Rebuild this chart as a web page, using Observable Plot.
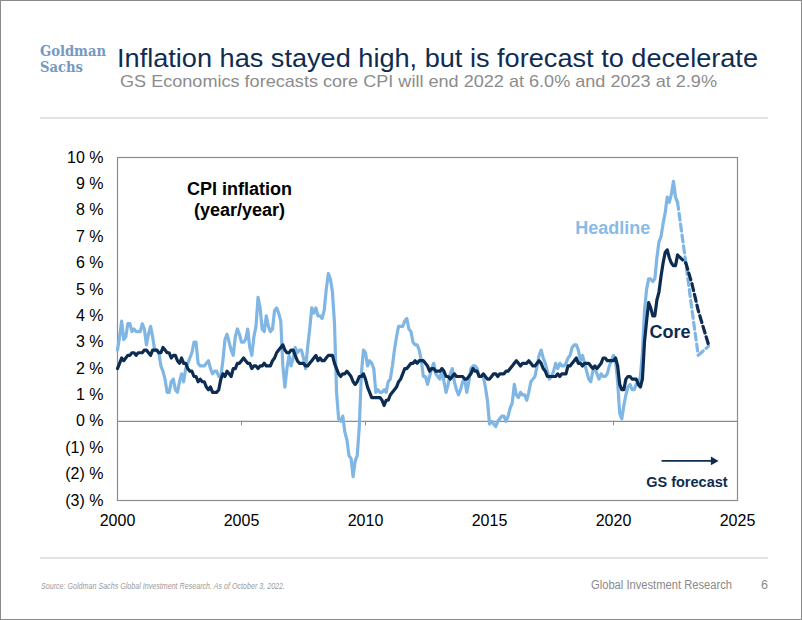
<!DOCTYPE html>
<html>
<head>
<meta charset="utf-8">
<script src="https://cdn.jsdelivr.net/npm/d3@7"></script>
<script src="https://cdn.jsdelivr.net/npm/@observablehq/plot@0.6"></script>
<style>
  html, body { margin: 0; padding: 0; background: #fff; }
  body { width: 802px; height: 620px; position: relative; overflow: hidden; font-family: "Liberation Sans", Arial, sans-serif; }
  .abs { position: absolute; white-space: nowrap; transform-origin: 0 0; }
  .logo { font-family: 'DejaVu Serif Condensed', 'DejaVu Serif', serif; font-stretch: condensed; font-weight: bold; font-size: 14px; line-height: 16.3px; color: #7399c6; }
  #border { position: absolute; left: 0; top: 0; width: 800px; height: 618px; border: 1px solid #8a8a8a; }
  .sep { position: absolute; left: 40px; width: 728px; height: 2px; background: #e3e3e3; }
  #chart { position: absolute; left: 0; top: 130px; }
</style>
</head>
<body>
<div id="border"></div>
<div class="abs fit logo" data-w="66" style="left:40px; top:42.5px;">Goldman</div>
<div class="abs fit logo" data-w="43" style="left:40px; top:58.8px;">Sachs</div>
<div class="abs fit" data-w="641" style="left:117px; top:46.1px; font:25px/25px 'Liberation Sans', Arial, sans-serif; color:#0f2c52;">Inflation has stayed high, but is forecast to decelerate</div>
<div class="abs fit" data-w="597" style="left:120px; top:72.9px; font:17px/17px 'Liberation Sans', Arial, sans-serif; color:#8c8c8c;">GS Economics forecasts core CPI will end 2022 at 6.0% and 2023 at 2.9%</div>
<div class="sep" style="top:117px;"></div>
<div class="sep" style="top:557px;"></div>
<div id="chart"></div>
<div class="abs fit" data-w="244" style="left:41px; top:582px; font:italic 8.5px/8.5px 'Liberation Sans', Arial, sans-serif; color:#9a9a9a;">Source: Goldman Sachs Global Investment Research. As of October 3, 2022.</div>
<div class="abs fit" data-w="141" style="left:591px; top:579.4px; font:12.5px/12.5px 'Liberation Sans', Arial, sans-serif; color:#8a8a8a;">Global Investment Research</div>
<div class="abs" style="left:761px; top:579.4px; font:12.5px/12.5px 'Liberation Sans', Arial, sans-serif; color:#8a8a8a;">6</div>
<script>
// ---- Data (monthly year/year % change, Jan 2000 – Aug 2022) ----
const startYear = 2000;
const headline = [
  2.7, 3.2, 3.8, 3.1, 3.2, 3.7, 3.7, 3.4, 3.5, 3.4, 3.4, 3.4,
  3.7, 3.5, 2.9, 3.3, 3.6, 3.2, 2.7, 2.7, 2.6, 2.1, 1.9, 1.6,
  1.1, 1.1, 1.5, 1.6, 1.2, 1.1, 1.5, 1.8, 1.5, 2.0, 2.2, 2.4,
  2.6, 3.0, 3.0, 2.2, 2.1, 2.1, 2.1, 2.2, 2.3, 2.0, 1.8, 1.9,
  1.9, 1.7, 1.7, 2.3, 3.1, 3.3, 3.0, 2.7, 2.5, 3.2, 3.5, 3.3,
  3.0, 3.0, 3.1, 3.5, 2.8, 2.5, 3.2, 3.6, 4.7, 4.3, 3.5, 3.4,
  4.0, 3.6, 3.4, 3.5, 4.2, 4.3, 4.1, 3.8, 2.1, 1.3, 2.0, 2.5,
  2.1, 2.4, 2.8, 2.6, 2.7, 2.7, 2.4, 2.0, 2.8, 3.5, 4.3, 4.1,
  4.3, 4.0, 4.0, 3.9, 4.2, 5.0, 5.6, 5.4, 4.9, 3.7, 1.1, 0.1,
  0.0, 0.2, -0.4, -0.7, -1.3, -1.4, -2.1, -1.5, -1.3, -0.2, 1.8, 2.7,
  2.6, 2.1, 2.3, 2.2, 2.0, 1.1, 1.2, 1.1, 1.1, 1.2, 1.1, 1.5,
  1.6, 2.1, 2.7, 3.2, 3.6, 3.6, 3.6, 3.8, 3.9, 3.5, 3.4, 3.0,
  2.9, 2.9, 2.7, 2.3, 1.7, 1.7, 1.4, 1.7, 2.0, 2.2, 1.8, 1.7,
  1.6, 2.0, 1.5, 1.1, 1.4, 1.8, 2.0, 1.5, 1.2, 1.0, 1.2, 1.5,
  1.6, 1.1, 1.5, 2.0, 2.1, 2.1, 2.0, 1.7, 1.7, 1.7, 1.3, 0.8,
  -0.1, 0.0, -0.1, -0.2, 0.0, 0.1, 0.2, 0.2, 0.0, 0.2, 0.5, 0.7,
  1.4, 1.0, 0.9, 1.1, 1.0, 1.0, 0.8, 1.1, 1.5, 1.6, 1.7, 2.1,
  2.5, 2.7, 2.4, 2.2, 1.9, 1.6, 1.7, 1.9, 2.2, 2.0, 2.2, 2.1,
  2.1, 2.2, 2.4, 2.5, 2.8, 2.9, 2.9, 2.7, 2.3, 2.5, 2.2, 1.9,
  1.6, 1.5, 1.9, 2.0, 1.8, 1.6, 1.8, 1.7, 1.7, 1.8, 2.1, 2.3,
  2.5, 2.3, 1.5, 0.3, 0.1, 0.6, 1.0, 1.3, 1.4, 1.2, 1.2, 1.4,
  1.4, 1.7, 2.6, 4.2, 5.0, 5.4, 5.4, 5.3, 5.4, 6.2, 6.8, 7.0,
  7.5, 7.9, 8.5, 8.3, 8.6, 9.1, 8.5, 8.3
];
const core = [
  2.0, 2.2, 2.4, 2.3, 2.4, 2.5, 2.5, 2.6, 2.6, 2.5, 2.6, 2.6,
  2.6, 2.7, 2.7, 2.6, 2.5, 2.7, 2.7, 2.7, 2.6, 2.6, 2.8, 2.7,
  2.6, 2.6, 2.4, 2.5, 2.5, 2.3, 2.2, 2.4, 2.2, 2.2, 2.0, 1.9,
  1.9, 1.7, 1.7, 1.5, 1.6, 1.5, 1.5, 1.3, 1.2, 1.3, 1.1, 1.1,
  1.1, 1.2, 1.6, 1.8, 1.7, 1.9, 1.8, 1.7, 2.0, 2.0, 2.2, 2.2,
  2.3, 2.4, 2.3, 2.2, 2.2, 2.0, 2.1, 2.1, 2.0, 2.1, 2.1, 2.2,
  2.1, 2.1, 2.1, 2.3, 2.4, 2.6, 2.7, 2.8, 2.9, 2.7, 2.6, 2.6,
  2.7, 2.7, 2.5, 2.3, 2.2, 2.2, 2.2, 2.1, 2.1, 2.2, 2.3, 2.4,
  2.5, 2.3, 2.4, 2.3, 2.3, 2.4, 2.5, 2.5, 2.5, 2.2, 2.0, 1.8,
  1.7, 1.8, 1.8, 1.9, 1.8, 1.7, 1.5, 1.4, 1.5, 1.7, 1.7, 1.8,
  1.6, 1.3, 1.1, 0.9, 0.9, 0.9, 0.9, 0.9, 0.8, 0.6, 0.8, 0.8,
  1.0, 1.1, 1.2, 1.3, 1.5, 1.6, 1.8, 2.0, 2.0, 2.1, 2.2, 2.2,
  2.3, 2.2, 2.3, 2.3, 2.3, 2.2, 2.1, 1.9, 2.0, 2.0, 1.9, 1.9,
  1.9, 2.0, 1.9, 1.7, 1.7, 1.6, 1.7, 1.8, 1.7, 1.7, 1.7, 1.7,
  1.6, 1.6, 1.7, 1.8, 2.0, 1.9, 1.9, 1.7, 1.7, 1.8, 1.7, 1.6,
  1.6, 1.7, 1.8, 1.8, 1.7, 1.8, 1.8, 1.8, 1.9, 1.9, 2.0, 2.1,
  2.2, 2.3, 2.2, 2.1, 2.2, 2.2, 2.2, 2.3, 2.2, 2.1, 2.1, 2.2,
  2.3, 2.2, 2.0, 1.9, 1.7, 1.7, 1.7, 1.7, 1.7, 1.8, 1.7, 1.8,
  1.8, 1.8, 2.1, 2.1, 2.2, 2.3, 2.4, 2.2, 2.2, 2.1, 2.2, 2.2,
  2.2, 2.1, 2.0, 2.1, 2.0, 2.1, 2.2, 2.4, 2.4, 2.3, 2.3, 2.3,
  2.3, 2.4, 2.1, 1.4, 1.2, 1.2, 1.6, 1.7, 1.7, 1.6, 1.6, 1.6,
  1.4, 1.3, 1.6, 3.0, 3.8, 4.5, 4.3, 4.0, 4.0, 4.6, 4.9, 5.5,
  6.0, 6.4, 6.5, 6.2, 6.0, 5.9, 5.9, 6.3
];
// GS forecast (dashed), starting from the last actual month
const forecastDates = [2022.583, 2022.917, 2023.167, 2023.417, 2023.833];
const headlineForecast = [8.3, 6.0, 4.2, 2.5, 2.85];
const coreForecast = [6.3, 6.0, 5.2, 4.2, 2.9];
const yTicks = [-3, -2, -1, 0, 1, 2, 3, 4, 5, 6, 7, 8, 9, 10];
const xTicks = [2000, 2005, 2010, 2015, 2020, 2025];

// ---- Annotations (data coordinates) ----
const NAVY = "#0d2c52", LIGHT = "#80b6e4";
const labels = [
  {text: "CPI inflation", x: 2004.92, y: 8.81, color: "#000", size: 18},
  {text: "(year/year)", x: 2004.92, y: 8.01, color: "#000", size: 18},
  {text: "Headline", x: 2019.97, y: 7.32, color: "#86bbe8", size: 18},
  {text: "Core", x: 2022.28, y: 3.38, color: NAVY, size: 18},
  {text: "GS forecast", x: 2022.96, y: -2.30, color: NAVY, size: 14.5}
];
const forecastArrow = [{x1: 2021.94, x2: 2023.95, y: -1.5}];
const arrowTip = [{x: 2024.03, y: -1.5}];

const monthly = vals => vals.map((v, i) => ({x: startYear + i / 12, y: v}));
const series = (dates, vals) => dates.map((d, i) => ({x: d, y: vals[i]}));
const fmtPct = d => d < 0 ? `(${-d}) %` : `${d} %`;

const chart = Plot.plot({
  width: 802,
  height: 410,
  marginLeft: 117,
  marginRight: 65,
  marginTop: 27,
  marginBottom: 40,
  x: {domain: [2000, 2025], label: null},
  y: {domain: [-3, 10], label: null},
  style: {fontFamily: "'Liberation Sans', Arial, sans-serif", fontSize: "16px", color: "#000", background: "transparent", overflow: "visible"},
  marks: [
    Plot.frame({stroke: "#8c8c8c", strokeWidth: 1.2}),
    Plot.ruleY([0], {stroke: "#8c8c8c", strokeWidth: 1.2}),
    Plot.ruleX(xTicks, {y1: 0, y2: -0.17, stroke: "#8c8c8c"}),
    Plot.axisY(yTicks, {tickSize: 0, tickPadding: 14, tickFormat: fmtPct, fontSize: 16, label: null}),
    Plot.axisX(xTicks, {tickSize: 0, tickPadding: 14, tickFormat: d => String(d), fontSize: 16, label: null}),
    Plot.line(monthly(headline), {x: "x", y: "y", stroke: LIGHT, strokeWidth: 3.2}),
    Plot.line(series(forecastDates, headlineForecast), {x: "x", y: "y", stroke: LIGHT, strokeWidth: 3.2, strokeDasharray: "7,4"}),
    Plot.line(monthly(core), {x: "x", y: "y", stroke: NAVY, strokeWidth: 3.2}),
    Plot.line(series(forecastDates, coreForecast), {x: "x", y: "y", stroke: NAVY, strokeWidth: 3.2, strokeDasharray: "7,4"}),
    Plot.text(labels, {x: "x", y: "y", text: "text", fill: d => d.color, fontSize: d => d.size, fontWeight: "bold", textAnchor: "middle"}),
    Plot.link(forecastArrow, {x1: "x1", x2: "x2", y1: "y", y2: "y", stroke: NAVY, strokeWidth: 1.6}),
    Plot.dot(arrowTip, {x: "x", y: "y", symbol: "triangle", rotate: 90, r: 3.3, fill: NAVY, stroke: "none"})
  ]
});
document.getElementById("chart").appendChild(chart);

function fit() {
  document.querySelectorAll(".fit").forEach(el => {
    el.style.transform = "none";
    const w = el.getBoundingClientRect().width;
    const target = +el.dataset.w;
    if (w > 0) el.style.transform = `scaleX(${target / w})`;
  });
}
fit();
if (document.fonts && document.fonts.ready) document.fonts.ready.then(fit);
</script>
</body>
</html>
